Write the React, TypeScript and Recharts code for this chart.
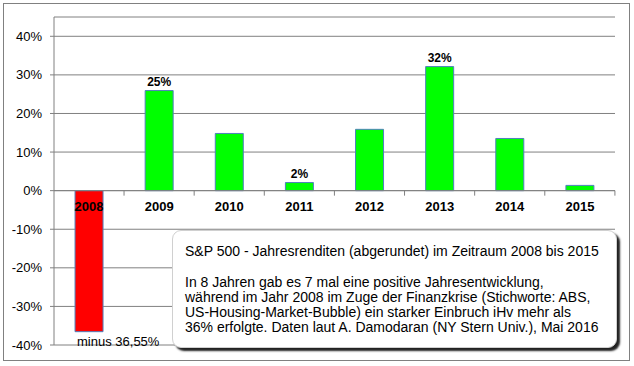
import React from "react";
import {
  BarChart,
  Bar,
  XAxis,
  YAxis,
  CartesianGrid,
  ReferenceLine,
  LabelList,
  Cell,
} from "recharts";

const years = ["2008", "2009", "2010", "2011", "2012", "2013", "2014", "2015"];
const returns = [-0.3655, 0.2594, 0.1482, 0.021, 0.1589, 0.3215, 0.1352, 0.0136];
const valueLabels = ["minus 36,55%", "25%", "", "2%", "", "32%", "", ""];
const yTicks = [-0.4, -0.3, -0.2, -0.1, 0, 0.1, 0.2, 0.3, 0.4];

const data = years.map((year, i) => ({
  year,
  value: returns[i],
  label: valueLabels[i],
}));

const FONT = "Arial, 'Liberation Sans', sans-serif";

function CategoryLabel(props: any) {
  const { x, y, width, height, index } = props;
  const value = returns[index];
  const top = Math.min(y, y + height);
  const bottom = Math.max(y, y + height);
  const zero = value >= 0 ? bottom : top;
  const cx = x + width / 2;
  const band = width / 0.4;
  const right = cx + band / 2;
  return (
    <g>
      <line x1={right} x2={right} y1={zero} y2={zero + 5} stroke="#808080" />
      <text
        x={cx}
        y={zero + 20}
        textAnchor="middle"
        fontFamily={FONT}
        fontSize={13}
        fontWeight="bold"
        fill="#000"
      >
        {years[index]}
      </text>
    </g>
  );
}

function ValueLabel(props: any) {
  const { x, y, width, height, index } = props;
  const text = valueLabels[index];
  if (!text) return null;
  const value = returns[index];
  const top = Math.min(y, y + height);
  const bottom = Math.max(y, y + height);
  if (value < 0) {
    return (
      <text x={x + 2} y={bottom + 14} fontFamily={FONT} fontSize={13} fill="#000">
        {text}
      </text>
    );
  }
  return (
    <text
      x={x + width / 2}
      y={top - 5}
      textAnchor="middle"
      fontFamily={FONT}
      fontSize={12}
      fontWeight="bold"
      fill="#000"
    >
      {text}
    </text>
  );
}

export default function App() {
  return (
    <div style={{ position: "relative", width: 634, height: 366, background: "#fff" }}>
      <style>{"body{margin:0}"}</style>
      <div
        style={{
          position: "absolute",
          left: 3,
          top: 3,
          width: 625,
          height: 356,
          border: "1px solid #808080",
        }}
      />
      <BarChart
        width={634}
        height={366}
        data={data}
        margin={{ top: 17, right: 19, bottom: 21, left: 0 }}
        barCategoryGap="30%"
      >
        <CartesianGrid vertical={false} stroke="#808080" strokeWidth={1} />
        <XAxis dataKey="year" hide />
        <YAxis
          width={54}
          domain={[-0.4, 0.45]}
          ticks={yTicks}
          interval={0}
          allowDataOverflow
          tickFormatter={(v: number) => `${Math.round(v * 100)}%`}
          tick={{ fontSize: 13, fill: "#000", fontFamily: FONT }}
          tickSize={4}
          tickMargin={8}
          axisLine={{ stroke: "#808080" }}
          tickLine={{ stroke: "#808080" }}
        />
        <ReferenceLine y={0} stroke="#808080" />
        <Bar dataKey="value" stroke="#4f81bd" strokeWidth={1} isAnimationActive={false}>
          {data.map((d, i) => (
            <Cell key={i} fill={d.value < 0 ? "#ff0000" : "#00ff00"} />
          ))}
          <LabelList dataKey="value" content={CategoryLabel} />
          <LabelList dataKey="label" content={ValueLabel} />
        </Bar>
      </BarChart>
      <div
        style={{
          position: "absolute",
          left: 172,
          top: 230,
          width: 445,
          height: 118,
          boxSizing: "border-box",
          background: "#fff",
          border: "1px solid #d0d0d0",
          borderRadius: 9,
          boxShadow: "3px 3px 2px #222",
          padding: "13px 0 0 12px",
          fontFamily: FONT,
          fontSize: 14,
          lineHeight: "15px",
          color: "#000",
          whiteSpace: "nowrap",
        }}
      >
        <div>S&amp;P 500 - Jahresrenditen (abgerundet) im Zeitraum 2008 bis 2015</div>
        <div style={{ height: 16 }} />
        <div>In 8 Jahren gab es 7 mal eine positive Jahresentwicklung,</div>
        <div>während im Jahr 2008 im Zuge der Finanzkrise (Stichworte: ABS,</div>
        <div>US-Housing-Market-Bubble) ein starker Einbruch iHv mehr als</div>
        <div>36% erfolgte. Daten laut A. Damodaran (NY Stern Univ.), Mai 2016</div>
      </div>
    </div>
  );
}
